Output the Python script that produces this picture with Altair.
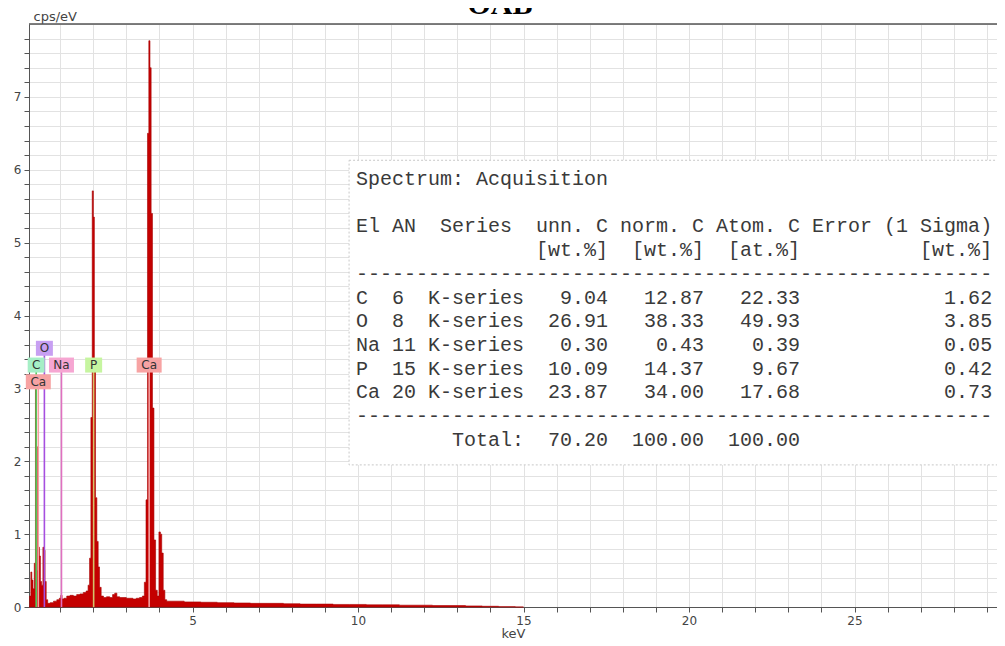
import altair as alt
import pandas as pd

# ---------------- data ----------------
# EDS spectrum: energy (keV) and intensity (cps/eV)
energy = [0.06, 0.10, 0.13, 0.16, 0.20, 0.24, 0.27, 0.30, 0.33, 0.36, 0.39, 0.42, 0.46,
          0.50, 0.53, 0.56, 0.60, 0.65, 0.75, 0.85, 0.95, 1.00, 1.04, 1.08, 1.15, 1.25,
          1.35, 1.45, 1.55, 1.65, 1.75, 1.82, 1.87, 1.91, 1.95, 1.99, 2.02, 2.05, 2.09,
          2.13, 2.17, 2.21, 2.27, 2.35, 2.45, 2.55, 2.62, 2.68, 2.75, 2.85, 2.95, 3.05,
          3.15, 3.25, 3.35, 3.45, 3.52, 3.57, 3.62, 3.66, 3.70, 3.73, 3.77, 3.81, 3.86,
          3.91, 3.96, 4.01, 4.05, 4.09, 4.14, 4.19, 4.25, 4.5, 5.0, 5.5, 6.0, 6.5, 7.0,
          7.5, 8.0, 8.5, 9.0, 9.5, 10.0, 10.5, 11.0, 11.5, 12.0, 12.5, 13.0, 13.5, 14.0,
          14.5, 15.0]
cps = [0.00, 0.15, 0.48, 0.37, 0.25, 0.60, 3.00, 2.20, 0.50, 0.82, 0.70, 0.35, 0.30,
       0.82, 0.78, 0.35, 0.10, 0.05, 0.06, 0.08, 0.10, 0.12, 0.16, 0.11, 0.12, 0.15,
       0.16, 0.15, 0.17, 0.18, 0.20, 0.22, 0.30, 0.67, 2.60, 5.71, 5.35, 3.30, 1.50,
       0.90, 0.55, 0.27, 0.15, 0.13, 0.14, 0.13, 0.17, 0.19, 0.14, 0.13, 0.13, 0.12,
       0.12, 0.11, 0.12, 0.13, 0.15, 0.34, 1.47, 6.50, 7.77, 7.40, 5.40, 2.73, 0.92,
       0.23, 0.15, 1.03, 1.00, 0.74, 0.23, 0.10, 0.08, 0.08, 0.07, 0.065, 0.06, 0.055, 0.05,
       0.05, 0.045, 0.04, 0.04, 0.035, 0.035, 0.03, 0.03, 0.025, 0.025, 0.02, 0.02, 0.015, 0.01,
       0.005, 0.0]

# element markers
marker_el = ["O", "C", "Na", "P", "Ca", "Ca L"]
marker_text = ["O", "C", "Na", "P", "Ca", "Ca"]
marker_kev = [0.525, 0.277, 1.041, 2.013, 3.69, 0.341]
marker_cps = [3.55, 3.32, 3.32, 3.32, 3.32, 3.09]
marker_line_col = ["#a64fe0", "#4fcc5a", "#e070c0", "#d4c26a", "#f4a0a0", "#f4a0a0"]
marker_box_col = ["#c79ff2", "#a6efc6", "#f6a6d2", "#c6f5a0", "#f7a3a3", "#f7a3a3"]

# quantification table
tab_el = ["C", "O", "Na", "P", "Ca"]
tab_an = [6, 8, 11, 15, 20]
tab_unn = [9.04, 26.91, 0.30, 10.09, 23.87]
tab_norm = [12.87, 38.33, 0.43, 14.37, 34.00]
tab_atom = [22.33, 49.93, 0.39, 9.67, 17.68]
tab_err = [1.62, 3.85, 0.05, 0.42, 0.73]
tab_total = [70.20, 100.00, 100.00]

chart_title = "OAB"
x_ticks = list(range(1, 30))
y_ticks = [i / 5 for i in range(40)]

# ---------------- layout constants ----------------
X0, X1 = 0.06, 29.305
Y0, Y1 = 0.0, 8.0
W, H = 968, 583
TABLE_BOX = dict(x=9.73, x2=31.0, y=6.13, y2=1.95)
TABLE_ANCHOR = dict(x=9.94, y=6.01)
TITLE_ANCHOR = dict(x=14.29, y=8.137)

xs = alt.Scale(domain=[X0, X1], nice=False, zero=False)
ys = alt.Scale(domain=[Y0, Y1], nice=False, zero=False)
FONT = "DejaVu Sans"

x_axis = alt.Axis(values=x_ticks, tickCount=200,
                  labelExpr="datum.value % 5 === 0 ? format(datum.value, 'd') : ''",
                  labelOverlap=False, labelFlush=False,
                  grid=True, gridColor="#e2e2e2", tickSize=5, tickColor="#555",
                  domainColor="#555", labelFont=FONT, labelFontSize=12, labelColor="#444",
                  labelPadding=3, title="keV", titleFont=FONT, titleFontSize=13,
                  titleFontWeight="normal", titleColor="#444", titlePadding=1)
y_axis = alt.Axis(values=y_ticks, tickCount=200,
                  labelExpr="abs(datum.value - round(datum.value)) < 0.001 ? format(datum.value, 'd') : ''",
                  labelOverlap=False, labelFlush=False,
                  grid=True, gridColor="#e2e2e2", tickSize=5, tickColor="#555",
                  domainColor="#555", labelFont=FONT, labelFontSize=12, labelColor="#444",
                  labelPadding=3, title="cps/eV", titleFont=FONT, titleFontSize=13,
                  titleFontWeight="normal", titleColor="#444", titleAngle=0,
                  titleAlign="left", titleBaseline="alphabetic", titleX=4, titleY=-4)

spec_df = pd.DataFrame({"keV": energy, "cps": cps})
spectrum = alt.Chart(spec_df).mark_area(interpolate="step", color="#c40000",
                                        stroke="#a80000", strokeWidth=0.6).encode(
    x=alt.X("keV:Q", scale=xs, axis=x_axis),
    y=alt.Y("cps:Q", scale=ys, axis=y_axis),
)

mk_df = pd.DataFrame({"el": marker_el, "txt": marker_text, "keV": marker_kev,
                      "cps": marker_cps, "base": [0.0] * len(marker_el)})
lines = alt.Chart(mk_df).mark_rule(strokeWidth=1.6).encode(
    x=alt.X("keV:Q", scale=xs),
    y=alt.Y("base:Q", scale=ys),
    y2=alt.Y2("cps:Q"),
    color=alt.Color("el:N", scale=alt.Scale(domain=marker_el, range=marker_line_col),
                    legend=None),
)

layers = [spectrum, lines]
for i in range(len(marker_el)):
    sub = mk_df.iloc[[i]]
    wpx = 9 + 8 * len(marker_text[i])
    box = alt.Chart(sub).mark_rect(width=wpx, height=15, color=marker_box_col[i]).encode(
        x=alt.X("keV:Q", scale=xs), y=alt.Y("cps:Q", scale=ys))
    txt = alt.Chart(sub).mark_text(font=FONT, fontSize=12, color="#333",
                                   baseline="middle", align="center").encode(
        x=alt.X("keV:Q", scale=xs), y=alt.Y("cps:Q", scale=ys), text="txt:N")
    layers += [box, txt]

# table (monospaced lines; spaces kept as non-breaking spaces, zero-width lead so
# leading blanks are not trimmed)
rows = ["Spectrum: Acquisition", "",
        "El AN  Series  unn. C norm. C Atom. C Error (1 Sigma)",
        " " * 15 + "[wt.%]  [wt.%]  [at.%]" + " " * 10 + "[wt.%]",
        "-" * 53]
for e, a, u, n, t, r in zip(tab_el, tab_an, tab_unn, tab_norm, tab_atom, tab_err):
    rows.append(f"{e:<3}{a:<3}K-series{u:>7.2f}{n:>8.2f}{t:>8.2f}{r:>16.2f}")
rows.append("-" * 53)
rows.append(" " * 8 + "Total:" + f"{tab_total[0]:>7.2f}{tab_total[1]:>8.2f}{tab_total[2]:>8.2f}")
rows = ["\u200b" + r.replace(" ", "\u00a0") + "\u200b" for r in rows]

box_df = pd.DataFrame({"keV": [TABLE_BOX["x"]], "k2": [TABLE_BOX["x2"]],
                       "cps": [TABLE_BOX["y"]], "c2": [TABLE_BOX["y2"]]})
tbox = alt.Chart(box_df).mark_rect(fill="white", stroke="#c8c8c8", strokeWidth=1,
                                   strokeDash=[2, 2], clip=True).encode(
    x=alt.X("keV:Q", scale=xs), x2="k2:Q", y=alt.Y("cps:Q", scale=ys), y2="c2:Q")

anc_df = pd.DataFrame({"keV": [TABLE_ANCHOR["x"]], "cps": [TABLE_ANCHOR["y"]]})
ttext = alt.Chart(anc_df).mark_text(font="Liberation Mono", fontSize=20, lineHeight=23.7,
                                    align="left", baseline="top", color="#3a3a3a").encode(
    x=alt.X("keV:Q", scale=xs), y=alt.Y("cps:Q", scale=ys), text=alt.value(rows))

top_df = pd.DataFrame({"cps": [Y1]})
top_rule = alt.Chart(top_df).mark_rule(color="#555", strokeWidth=1.5).encode(
    y=alt.Y("cps:Q", scale=ys))

title_df = pd.DataFrame({"keV": [TITLE_ANCHOR["x"]], "cps": [TITLE_ANCHOR["y"]],
                         "t": [chart_title]})
title_txt = alt.Chart(title_df).mark_text(font="Liberation Serif", fontSize=30,
                                          fontWeight="bold", color="black",
                                          align="center", baseline="alphabetic").encode(
    x=alt.X("keV:Q", scale=xs), y=alt.Y("cps:Q", scale=ys), text="t:N")

layers += [tbox, ttext, top_rule, title_txt]

chart = alt.layer(*layers).properties(
    width=W, height=H,
    autosize=alt.AutoSizeParams(type="none"),
    padding={"left": 21, "top": 16, "right": 0, "bottom": 32},
).configure_view(strokeWidth=0).configure(background="white")

chart.save("out.html", embed_options={"renderer": "svg", "actions": False})
